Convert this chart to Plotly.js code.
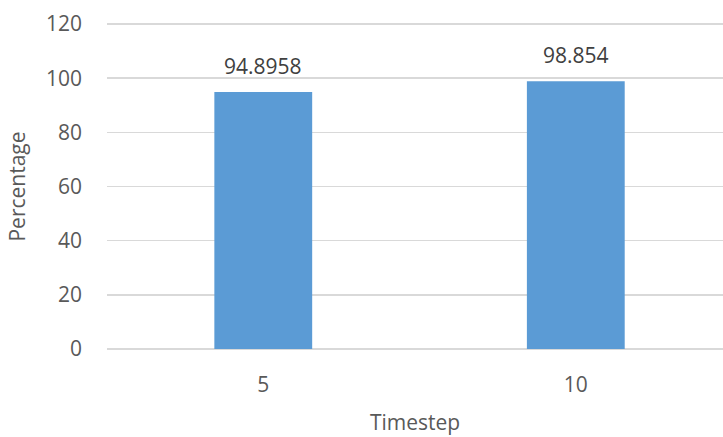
<!DOCTYPE html>
<html>
<head>
<meta charset="utf-8">
<script src="https://cdn.plot.ly/plotly-3.0.1.min.js"></script>
<style>html,body{margin:0;padding:0;background:#fff;}#chart{width:723px;height:437px;}</style>
</head>
<body>
<div id="chart"></div>
<script>
var categories = ["5", "10"];
var percentages = [94.8958, 98.854];
var valueLabels = ["94.8958", "98.854"];
var yTicks = [0, 20, 40, 60, 80, 100, 120];

var font = "Open Sans, Liberation Sans, sans-serif";
var fs = 21;

var trace = {
  type: "bar",
  x: categories,
  y: percentages,
  marker: {color: "#5b9bd5"},
  width: 0.313,
  hoverinfo: "x+y"
};

var annotations = categories.map(function (c, i) {
  return {
    x: i, y: percentages[i], xref: "x", yref: "y",
    text: valueLabels[i], showarrow: false,
    xanchor: "center", yanchor: "bottom", yshift: 10,
    font: {family: font, size: fs, color: "#404040"}
  };
});

var layout = {
  width: 723,
  height: 437,
  margin: {l: 107, r: 0, t: 23, b: 87},
  paper_bgcolor: "#ffffff",
  plot_bgcolor: "#ffffff",
  showlegend: false,
  font: {family: font, size: fs, color: "#595959"},
  annotations: annotations,
  xaxis: {
    type: "category",
    range: [-0.5, 1.471],
    showgrid: false,
    zeroline: false,
    showline: false,
    ticks: "",
    ticklabelstandoff: 20,
    tickfont: {family: font, size: fs, color: "#595959"},
    title: {text: "Timestep", font: {family: font, size: fs, color: "#595959"}, standoff: 18}
  },
  yaxis: {
    range: [-0.4, 120.4],
    tickvals: yTicks,
    ticktext: yTicks.map(String),
    showgrid: true,
    gridcolor: "#d9d9d9",
    gridwidth: 1.5,
    zeroline: false,
    showline: false,
    ticks: "",
    ticklabelstandoff: 24,
    tickfont: {family: font, size: fs, color: "#595959"},
    title: {text: "Percentage", font: {family: font, size: fs, color: "#595959"}, standoff: 14}
  },
  bargap: 0.687
};

Plotly.newPlot("chart", [trace], layout, {displayModeBar: false, staticPlot: true});
</script>
</body>
</html>
